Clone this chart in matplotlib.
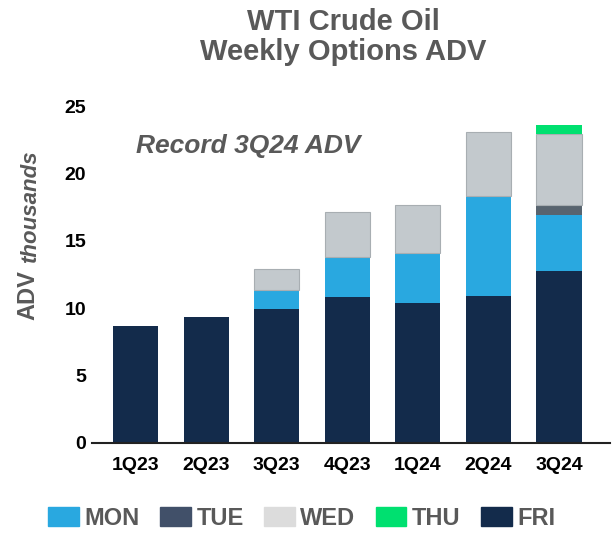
import matplotlib.pyplot as plt
import numpy as np
from matplotlib.patches import Patch

plt.rcParams['font.family'] = ['Liberation Sans', 'DejaVu Sans']

quarters = ['1Q23', '2Q23', '3Q23', '4Q23', '1Q24', '2Q24', '3Q24']
fri = [8.7, 9.35, 9.95, 10.85, 10.35, 10.9, 12.75]
mon = [0, 0, 1.4, 2.95, 3.75, 7.4, 4.2]
tue = [0, 0, 0, 0, 0, 0, 0.7]
wed = [0, 0, 1.55, 3.35, 3.55, 4.8, 5.3]
thu = [0, 0, 0, 0, 0, 0, 0.65]
yticks = [0, 5, 10, 15, 20, 25]


def main():
    fig = plt.figure(figsize=(6.16, 5.33), dpi=100)
    ax = fig.add_axes([0.149, 0.169, 0.841, 0.632])

    x = np.arange(len(quarters))
    w = 0.64
    gray = '#595959'

    # stacked from the bottom: FRI, MON, TUE, WED, THU
    bottom = np.zeros(len(quarters))
    series = [(fri, '#132b4b', 'none'),
              (mon, '#29a8e0', 'none'),
              (tue, '#58646f', 'none'),
              (wed, '#c3c9cd', '#a8aeb2'),
              (thu, '#00e070', 'none')]
    for vals, col, edge in series:
        vals = np.array(vals)
        keep = vals > 0  # skip empty segments so no stray edges show
        ax.bar(x[keep], vals[keep], w, bottom=bottom[keep], color=col,
               edgecolor=edge, linewidth=0.8)
        bottom += vals

    ax.set_xlim(-0.62, 6.72)
    ax.set_ylim(0, 25)
    ax.set_yticks(yticks)
    ax.set_xticks(x)
    ax.set_xticklabels(quarters, fontsize=14, fontweight='bold')
    ax.set_yticklabels([str(t) for t in yticks], fontsize=14, fontweight='bold')
    ax.tick_params(axis='x', length=0, pad=10)
    ax.tick_params(axis='y', length=0, pad=4)
    for s in ['top', 'right', 'left']:
        ax.spines[s].set_visible(False)
    ax.spines['bottom'].set_color('#222222')
    ax.spines['bottom'].set_linewidth(1.5)

    ax.text(0, 22.0, 'Record 3Q24 ADV', fontsize=19, fontweight='bold',
            fontstyle='italic', color=gray, ha='left', va='center')

    # title
    fig.text(0.557, 0.93, 'WTI Crude Oil\nWeekly Options ADV', fontsize=21,
             fontweight='bold', color=gray, ha='center', va='center',
             linespacing=1.1)

    # y label: big "ADV" plus smaller italic "thousands"
    fig.text(0.046, 0.446, 'ADV', rotation=90, fontsize=17, fontweight='bold',
             color=gray, ha='center', va='center')
    fig.text(0.049, 0.613, 'thousands', rotation=90, fontsize=16,
             fontweight='bold', fontstyle='italic', color=gray,
             ha='center', va='center')

    handles = [Patch(color='#29a8e0', label='MON'),
               Patch(color='#415069', label='TUE'),
               Patch(color='#dcdcdc', label='WED'),
               Patch(color='#00e070', label='THU'),
               Patch(color='#132b4b', label='FRI')]
    leg = fig.legend(handles=handles, loc='center', bbox_to_anchor=(0.49, 0.028),
                     ncol=5, frameon=False, handlelength=1.3, handleheight=0.85,
                     handletextpad=0.25, columnspacing=0.85,
                     prop={'size': 17, 'weight': 'bold'})
    for t in leg.get_texts():
        t.set_color(gray)

    fig.savefig('out.png', dpi=100)


if __name__ == "__main__": main()
